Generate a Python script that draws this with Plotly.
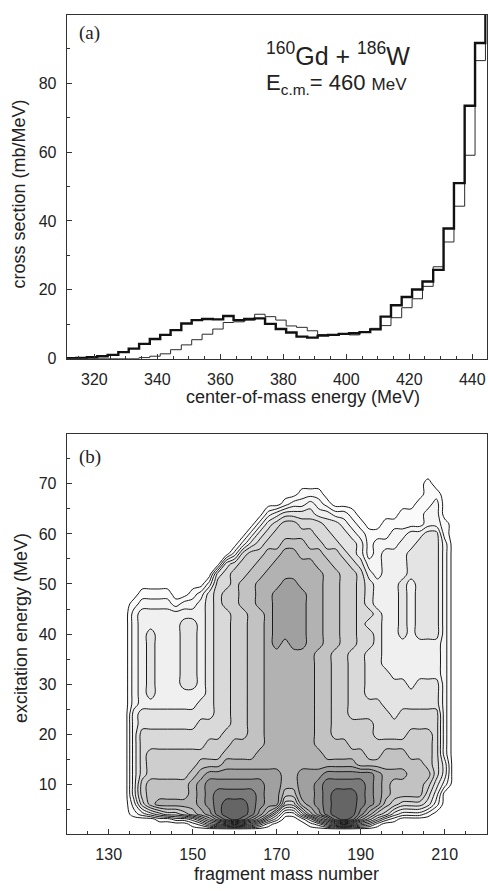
import plotly.graph_objects as go

# ---------------- panel (a): cross section histograms ----------------
bin_low_edges = [310.9, 314.2, 317.6, 320.9, 324.2, 327.6, 330.9, 334.2, 337.6, 340.9,
                 344.2, 347.6, 350.9, 354.2, 357.6, 360.9, 364.2, 367.6, 370.9, 374.2,
                 377.6, 380.9, 384.2, 387.6, 390.9, 394.2, 397.6, 400.9, 404.2, 407.6,
                 410.9, 414.2, 417.6, 420.9, 424.2, 427.6, 430.9, 434.2, 437.6, 440.9, 444.2]
last_high_edge = 447.6
xsec_thick = [0.1, 0.2, 0.4, 0.7, 1.1, 1.9, 2.9, 4.3, 5.7, 6.9,
              8.3, 10.2, 11.2, 11.5, 11.4, 12.4, 11.2, 11.5, 11.7, 10.1,
              8.6, 7.6, 6.4, 6.1, 6.7, 6.9, 7.2, 7.4, 7.7, 8.5,
              12.2, 15.5, 17.9, 20.1, 22.4, 25.8, 37.8, 51.0, 73.5, 91.7, 110.0]
xsec_thin = [0, 0, 0, 0, 0, 0, 0, 0.3, 0.7, 1.4,
             2.6, 4.0, 5.5, 7.1, 8.6, 10.5, 10.7, 11.2, 12.9, 12.2,
             11.2, 9.5, 9.1, 8.1, 7.0, 6.9, 7.2, 6.9, 7.6, 8.8,
             9.6, 11.9, 14.8, 17.4, 21.0, 26.7, 33.9, 44.3, 59.1, 86.6, 110.0]

# ---------------- panel (b): contour level map ----------------
mass_number = [132, 134, 136, 138, 140, 142, 144, 146, 148, 150, 152, 154, 156, 158,
               160, 162, 164, 166, 168, 170, 172, 174, 176, 178, 180, 182, 184, 186,
               188, 190, 192, 194, 196, 198, 200, 202, 204, 206, 208, 210, 212, 214]
excitation_desc = [74, 72, 70, 68, 66, 64, 62, 60, 58, 56, 54, 52, 50, 48, 46, 44, 42, 40,
                   38, 36, 34, 32, 30, 28, 26, 24, 22, 20, 18, 16, 14, 12, 10, 8, 6, 4, 3, 2, 1, 0]
# number of contour levels enclosing each grid node (hex digit), rows from top (74 MeV) down
level_rows = [
    "000000 000000 000000 000000 000000 000000 000000",
    "000000 000000 000000 000000 000000 000000 000000",
    "000000 000000 000000 000000 000000 000000 010000",
    "000000 000000 000000 000011 100000 000000 011000",
    "000000 000000 000000 001223 210000 000000 112000",
    "000000 000000 000000 234444 332210 000011 122000",
    "000000 000000 000002 456655 544321 001111 122100",
    "000000 000000 000024 566666 554432 111223 344100",
    "000000 000000 000245 667776 655443 122233 444200",
    "000000 000000 002566 778877 766543 123334 444200",
    "000000 000000 045667 788888 776654 223334 444200",
    "000000 000000 456677 888888 877665 323334 444200",
    "000000 000002 556778 889988 877665 433343 444200",
    "000111 100124 566778 899998 877665 433343 444200",
    "001222 212234 566778 899998 877665 433343 444200",
    "002333 333334 556677 899998 877665 543343 444200",
    "002333 334434 556677 899998 877665 443343 444200",
    "002343 334434 556677 899998 877665 543343 444200",
    "002343 334434 556677 898998 877665 543333 333200",
    "002343 334434 556677 888888 776655 443333 333200",
    "002343 334434 556677 888888 776655 443333 333200",
    "002343 334434 556677 888888 776655 444333 333200",
    "002343 334434 556677 888888 776655 444443 444200",
    "002343 333334 556677 888888 776655 444444 444200",
    "002333 333344 556677 888888 776655 554444 444200",
    "003444 444444 556677 888888 776655 555455 555200",
    "003444 444455 556677 888888 776666 655555 555200",
    "003555 555555 566677 888888 776666 655556 665200",
    "003555 555556 667777 888888 777766 666666 665200",
    "003566 666666 677778 888888 877777 667776 665200",
    "003566 666677 788888 888888 888887 777777 765300",
    "003566 666789 999999 998899 9aaaaa a98887 775300",
    "003677 77789a aaaaaa 998899 abbbbb a98777 764200",
    "003677 77789a bbbbba 997799 abcccb a98777 753000",
    "002578 88889a bcccba 995589 abcccb a97655 542000",
    "001234 556789 bcccb9 741147 9bccca 865322 210000",
    "000001 122357 9bcb97 420013 68bcb8 642100 000000",
    "000000 000124 567653 100001 246764 310000 000000",
    "000000 000000 000000 000000 000000 000000 000000",
    "000000 000000 000000 000000 000000 000000 000000",
]
level_colors = ['#ffffff', '#fafafa', '#f5f5f5', '#f0f0f0', '#e4e4e4', '#d9d9d9', '#cecece',
                '#c2c2c2', '#b2b2b2', '#a0a0a0', '#8d8d8d', '#7a7a7a', '#656565']

# ---------------- build ----------------
W, H = 488, 891
FONT = 'Liberation Sans, Arial, sans-serif'
SERIF = 'Liberation Serif, Times New Roman, serif'
TXT = '#222222'

hist_x = bin_low_edges + [last_high_edge]
thick_y = xsec_thick + [xsec_thick[-1]]
thin_y = xsec_thin + [xsec_thin[-1]]

z_desc = [[int(ch, 16) for ch in row.replace(' ', '')] for row in level_rows]
z = z_desc[::-1]
excitation = excitation_desc[::-1]

nlev = len(level_colors) - 1
colorscale = []
for k, c in enumerate(level_colors):
    lo = max(0.0, (k - 0.5) / nlev)
    hi = min(1.0, (k + 0.5) / nlev)
    colorscale.append([lo, c])
    colorscale.append([hi, c])

fig = go.Figure()
fig.add_trace(go.Scatter(x=hist_x, y=thin_y, mode='lines',
                         line=dict(color='#2a2a2a', width=1, shape='hv'),
                         xaxis='x', yaxis='y', hoverinfo='skip', showlegend=False))
fig.add_trace(go.Scatter(x=hist_x, y=thick_y, mode='lines',
                         line=dict(color='#111111', width=2.4, shape='hv'),
                         xaxis='x', yaxis='y', hoverinfo='skip', showlegend=False))
fig.add_trace(go.Contour(x=mass_number, y=excitation, z=z,
                         zmin=0, zmax=nlev, zauto=False, autocontour=False,
                         contours=dict(start=0.5, end=nlev - 0.5, size=1, coloring='fill'),
                         colorscale=colorscale, showscale=False,
                         line=dict(color='#1a1a1a', width=1, smoothing=1.0),
                         xaxis='x2', yaxis='y2', hoverinfo='skip'))


def px2x(px):
    return px / W


def px2y(py):
    return 1 - py / H


axis_common = dict(showline=True, mirror=True, linecolor='#333333', linewidth=1,
                   showgrid=False, zeroline=False, ticks='inside', ticklen=5,
                   tickwidth=1, tickcolor='#333333', ticklabelstandoff=6,
                   tickfont=dict(family=FONT, size=16, color=TXT))

xdom = [px2x(66.7), px2x(486.7)]
fig.update_layout(
    width=W, height=H, margin=dict(l=0, r=0, t=0, b=0),
    paper_bgcolor='white', plot_bgcolor='white', showlegend=False,
    xaxis=dict(domain=xdom, range=[311.2, 444.6], anchor='y', tickmode='linear',
               tick0=320, dtick=20,
               minor=dict(tick0=320, dtick=5, ticks='inside', ticklen=3, tickcolor='#333333'),
               **axis_common),
    yaxis=dict(domain=[px2y(362.3), px2y(15)], range=[0, 99.9], anchor='x', tickmode='linear',
               tick0=0, dtick=20,
               minor=dict(tick0=0, dtick=10, ticks='inside', ticklen=3, tickcolor='#333333'),
               **axis_common),
    xaxis2=dict(domain=xdom, range=[120, 220], anchor='y2', tickmode='linear',
                tick0=130, dtick=20,
                minor=dict(tick0=130, dtick=5, ticks='inside', ticklen=3, tickcolor='#333333'),
                **axis_common),
    yaxis2=dict(domain=[px2y(842.7), px2y(438.3)], range=[0.01, 79.99], anchor='x2',
                tickmode='linear', tick0=10, dtick=10,
                minor=dict(tick0=10, dtick=5, ticks='inside', ticklen=3, tickcolor='#333333'),
                **axis_common),
)

annots = [
    dict(text='(a)', x=px2x(89.5), y=px2y(33.3), font=dict(family=SERIF, size=19, color=TXT)),
    dict(text='(b)', x=px2x(90.3), y=px2y(461.7), font=dict(family=SERIF, size=19, color=TXT)),
    dict(text='center-of-mass energy (MeV)', x=px2x(303.3), y=px2y(401),
         font=dict(family=FONT, size=18, color=TXT)),
    dict(text='cross section (mb/MeV)', x=px2x(19.5), y=px2y(196), textangle=-90,
         font=dict(family=FONT, size=18, color=TXT)),
    dict(text='fragment mass number', x=px2x(286.7), y=px2y(883),
         font=dict(family=FONT, size=18, color=TXT)),
    dict(text='excitation energy (MeV)', x=px2x(20.5), y=px2y(635), textangle=-90,
         font=dict(family=FONT, size=18, color=TXT)),
    dict(text='<sup>160</sup>Gd + <sup>186</sup>W', x=px2x(264), y=px2y(55), xanchor='left',
         font=dict(family=FONT, size=25, color=TXT)),
    dict(text="E<sub>c.m.</sub>= 460 <span style='font-size:17px'>MeV</span>",
         x=px2x(264), y=px2y(85), xanchor='left',
         font=dict(family=FONT, size=22, color=TXT)),
]
for a in annots:
    base = dict(xref='paper', yref='paper', showarrow=False, xanchor='center', yanchor='middle')
    base.update(a)
    fig.add_annotation(**base)

fig.write_html('out.html')
